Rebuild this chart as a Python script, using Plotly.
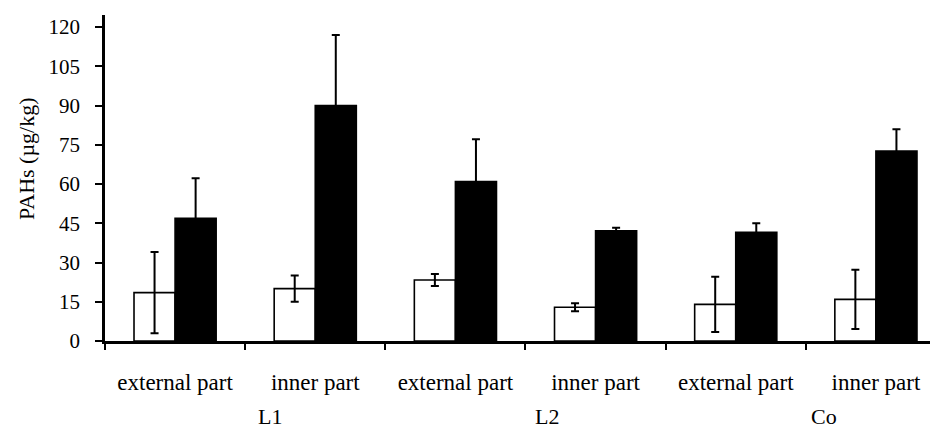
import plotly.graph_objects as go

parts = ["external part", "inner part", "external part", "inner part", "external part", "inner part"]
groups = ["L1", "L2", "Co"]
white_vals = [18.5, 20.0, 23.3, 12.9, 14.0, 15.9]
white_err = [15.5, 5.0, 2.3, 1.5, 10.6, 11.3]
black_vals = [46.9, 90.0, 60.9, 42.1, 41.5, 72.6]
black_err = [15.3, 27.0, 16.2, 1.2, 3.5, 8.3]
y_ticks = [0, 15, 30, 45, 60, 75, 90, 105, 120]

FONT = "Liberation Serif"
x = list(range(len(parts)))

fig = go.Figure()
fig.add_trace(go.Bar(
    x=x, y=white_vals,
    marker=dict(color="white", line=dict(color="black", width=1.6)),
    error_y=dict(type="data", array=white_err, visible=True, color="black", thickness=2, width=4),
    showlegend=False,
))
fig.add_trace(go.Bar(
    x=x, y=black_vals,
    marker=dict(color="black", line=dict(color="black", width=1.6)),
    error_y=dict(type="data", array=black_err, visible=True, color="black", thickness=2, width=4),
    showlegend=False,
))

# group labels (slightly right of the pair centre, as in the reference)
offsets = [0.18, 0.15, 0.13]
for i, g in enumerate(groups):
    fig.add_annotation(
        x=2 * i + 0.5 + offsets[i], y=0, xref="x", yref="paper",
        yanchor="middle", yshift=-75, text=g, showarrow=False,
        font=dict(family=FONT, size=22, color="black"),
    )

fig.add_annotation(
    x=0, xref="paper", xshift=-93, y=0.56, yref="paper",
    text="PAHs (µg/kg)", textangle=-90, showarrow=False,
    font=dict(family=FONT, size=22, color="black"),
)

fig.update_layout(
    width=938, height=430,
    margin=dict(l=97, r=8, t=7, b=97),
    paper_bgcolor="white", plot_bgcolor="white",
    barmode="group", bargap=0.414, bargroupgap=0,
    font=dict(family=FONT, size=21, color="black"),
)
fig.update_xaxes(
    range=[-0.5, 5.443], tickmode="array", tickvals=x, ticktext=parts,
    ticks="", showgrid=False, zeroline=False, automargin=False,
    showline=True, linecolor="black", linewidth=2.5,
    tickfont=dict(family=FONT, size=23, color="black"),
    ticklabelstandoff=19,
    minor=dict(tickmode="array", tickvals=[i - 0.5 for i in range(len(parts) + 1)],
               ticks="outside", ticklen=6, tickwidth=2, tickcolor="black", showgrid=False),
)
fig.update_yaxes(
    range=[0, 124.6], tickmode="array", tickvals=y_ticks,
    ticks="outside", ticklen=7, tickwidth=2, tickcolor="black",
    showgrid=False, zeroline=False, automargin=False,
    showline=True, linecolor="black", linewidth=2.5,
    tickfont=dict(family=FONT, size=21, color="black"),
    ticklabelstandoff=11,
)

fig.write_html("out.html")
